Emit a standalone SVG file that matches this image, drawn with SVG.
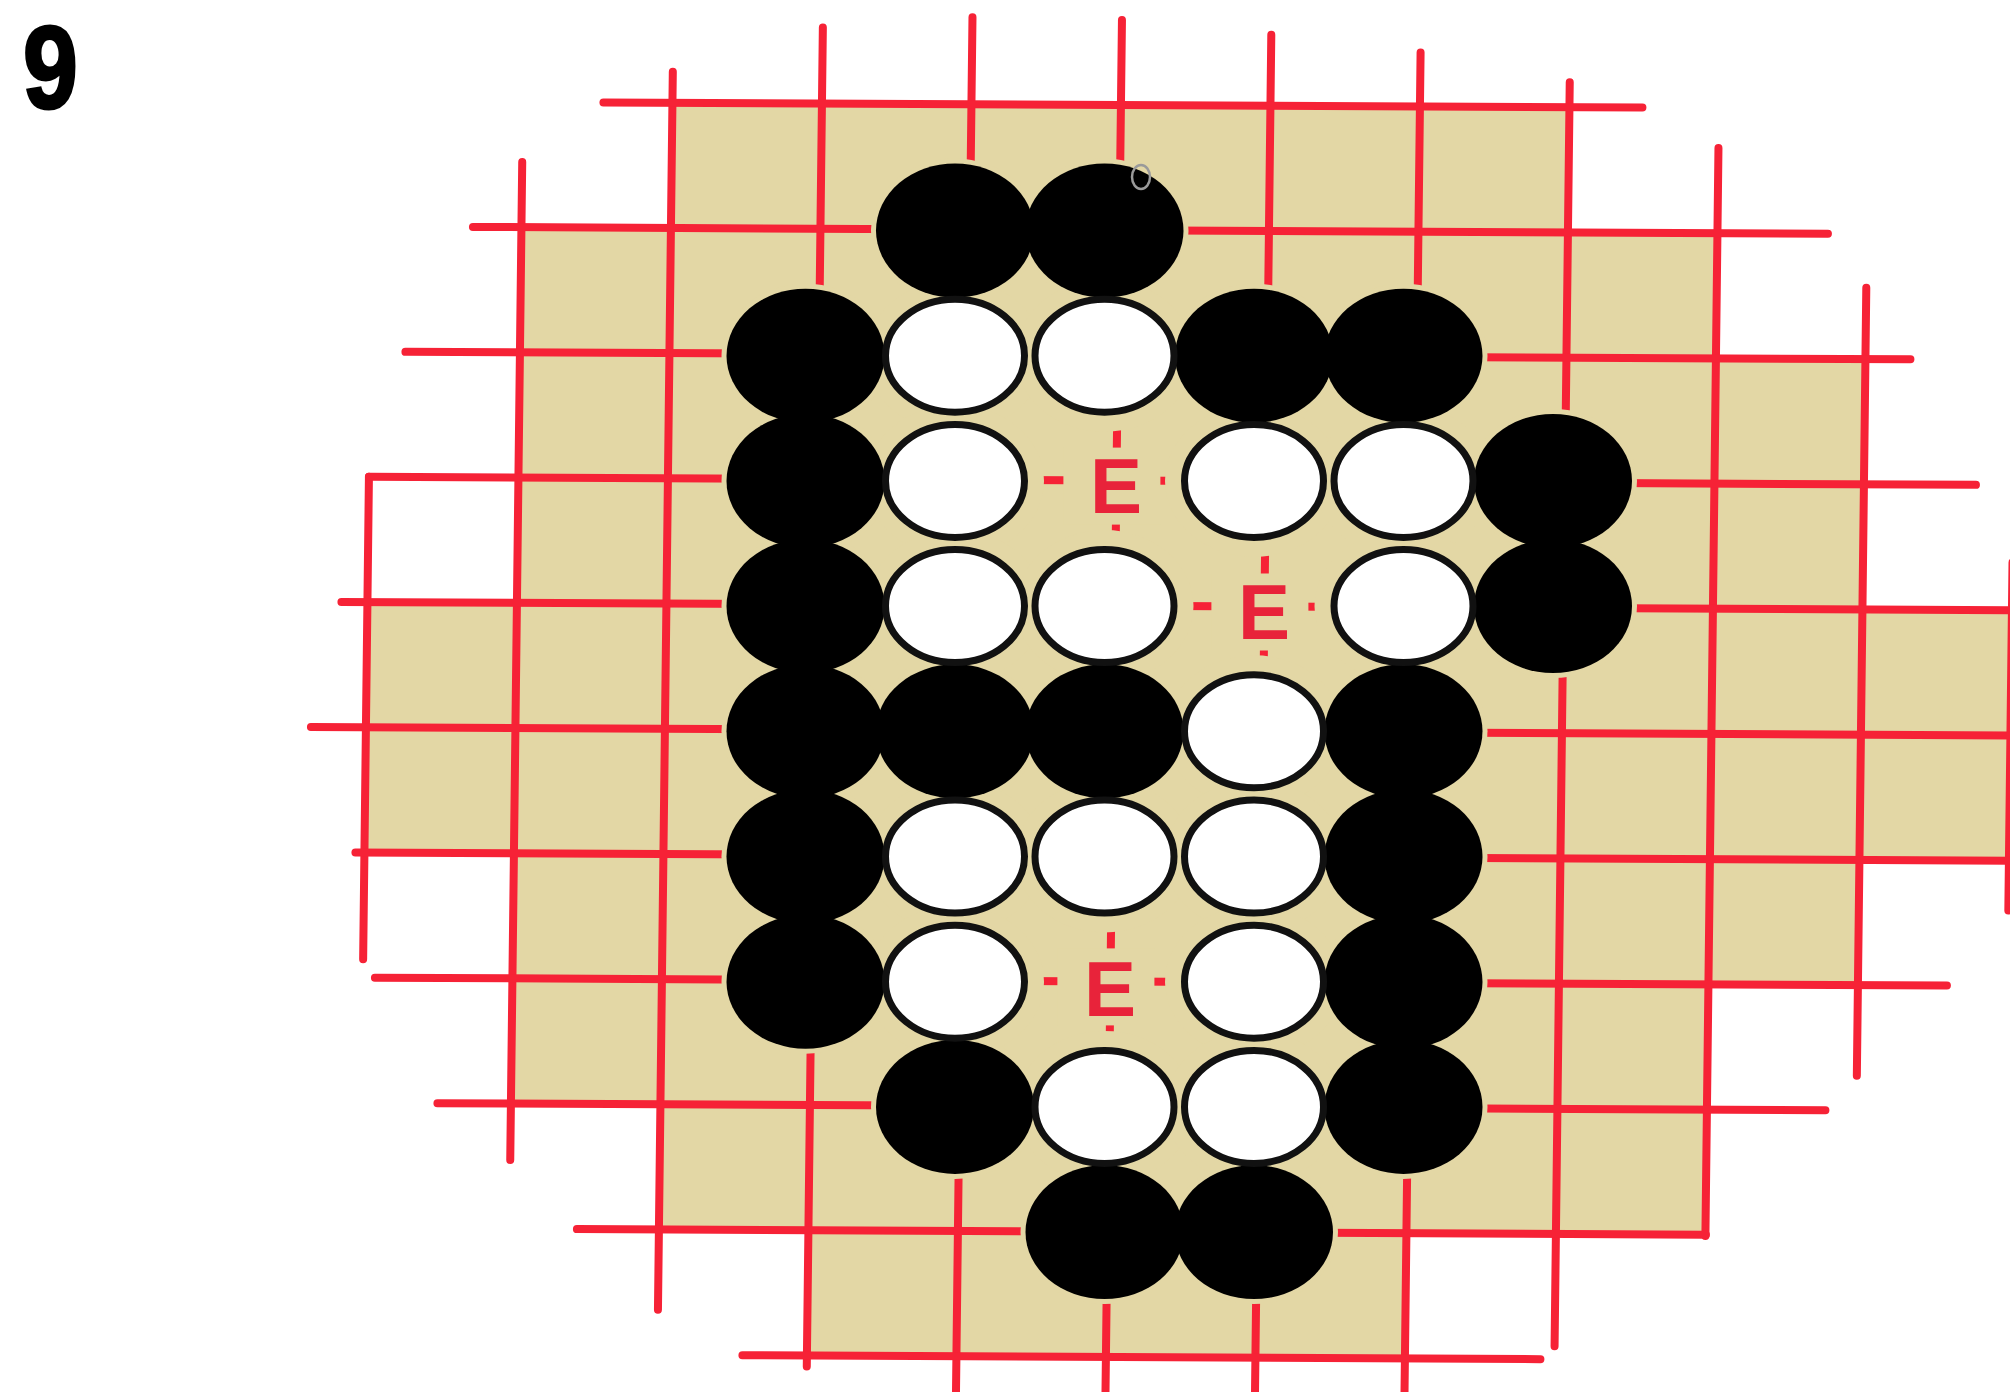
<svg xmlns="http://www.w3.org/2000/svg" width="2010" height="1392" viewBox="0 0 2010 1392">
<defs>
<style>
.grid line{stroke:#f62236;stroke-width:8;stroke-linecap:round}
.tan{fill:#e3d7a5}
.halo-b{fill:#e3d7a5}
.halo-w{fill:#e3d7a5}
.b{fill:#000}
.w{fill:#fff;stroke:#111;stroke-width:7}
.lbl{font-family:"Liberation Sans",Arial,sans-serif;font-size:78px;font-weight:bold;fill:#e8233a;text-anchor:middle}
.num{font-family:"Liberation Sans",Arial,sans-serif;font-size:116px;font-weight:bold;fill:#000}
</style>
</defs>
<rect width="2010" height="1392" fill="#fff"/>
<g id="label-9"><text class="num" transform="translate(23,108) scale(0.85,1)" x="0" y="0" stroke="#000" stroke-width="3">9</text></g>
<g id="board" transform="matrix(1,0.005,-0.012,1,8.7,-5.6)">
<polygon class="tan" points="665,105 1562,105 1562,230.2 1711.5,230.2 1711.5,355.4 1861,355.4 1861,605.8 2040,605.8 2040,856.2 1861,856.2 1861,981.4 1711.5,981.4 1711.5,1231.8 1412.5,1231.8 1412.5,1357 814.5,1357 814.5,1231.8 665,1231.8 665,1106.6 515.5,1106.6 515.5,856.2 366,856.2 366,605.8 515.5,605.8 515.5,230.2 665,230.2"/>
<g id="connectors" class="grid">
<line x1="366" y1="480.6" x2="366" y2="963"/>
<line x1="515.5" y1="165" x2="515.5" y2="1163"/>
<line x1="665" y1="74" x2="665" y2="1312"/>
<line x1="814.5" y1="29" x2="814.5" y2="1368"/>
<line x1="964" y1="18" x2="964" y2="1420"/>
<line x1="1113.5" y1="20" x2="1113.5" y2="1420"/>
<line x1="1263" y1="34" x2="1263" y2="1420"/>
<line x1="1412.5" y1="51" x2="1412.5" y2="1420"/>
<line x1="1562" y1="80" x2="1562" y2="1344"/>
<line x1="1711.5" y1="145" x2="1711.5" y2="1233"/>
<line x1="1861" y1="284" x2="1861" y2="1072"/>
<line x1="2010.5" y1="558" x2="2010.5" y2="906"/>
<line x1="596" y1="105" x2="1635" y2="105"/>
<line x1="467" y1="230.2" x2="1822" y2="230.2"/>
<line x1="401" y1="355.4" x2="1906" y2="355.4"/>
<line x1="366" y1="480.6" x2="1973" y2="480.6"/>
<line x1="340" y1="605.8" x2="2040" y2="605.8"/>
<line x1="311" y1="731" x2="2040" y2="731"/>
<line x1="357" y1="856.2" x2="2040" y2="856.2"/>
<line x1="378" y1="981.4" x2="1950" y2="981.4"/>
<line x1="442" y1="1106.6" x2="1830" y2="1106.6"/>
<line x1="583" y1="1231.8" x2="1712" y2="1231.8"/>
<line x1="750" y1="1357" x2="1548" y2="1357"/>
</g>
</g>
<g id="halos">
<ellipse class="halo-b" cx="955" cy="230.5" rx="84" ry="72"/>
<ellipse class="halo-b" cx="1104.5" cy="230.5" rx="84" ry="72"/>
<ellipse class="halo-b" cx="805.5" cy="355.7" rx="84" ry="72"/>
<ellipse class="halo-b" cx="1254" cy="355.7" rx="84" ry="72"/>
<ellipse class="halo-b" cx="1403.5" cy="355.7" rx="84" ry="72"/>
<ellipse class="halo-b" cx="805.5" cy="480.9" rx="84" ry="72"/>
<ellipse class="halo-b" cx="1553" cy="480.9" rx="84" ry="72"/>
<ellipse class="halo-b" cx="805.5" cy="606.1" rx="84" ry="72"/>
<ellipse class="halo-b" cx="1553" cy="606.1" rx="84" ry="72"/>
<ellipse class="halo-b" cx="805.5" cy="731.3" rx="84" ry="72"/>
<ellipse class="halo-b" cx="955" cy="731.3" rx="84" ry="72"/>
<ellipse class="halo-b" cx="1104.5" cy="731.3" rx="84" ry="72"/>
<ellipse class="halo-b" cx="1403.5" cy="731.3" rx="84" ry="72"/>
<ellipse class="halo-b" cx="805.5" cy="856.5" rx="84" ry="72"/>
<ellipse class="halo-b" cx="1403.5" cy="856.5" rx="84" ry="72"/>
<ellipse class="halo-b" cx="805.5" cy="981.7" rx="84" ry="72"/>
<ellipse class="halo-b" cx="1403.5" cy="981.7" rx="84" ry="72"/>
<ellipse class="halo-b" cx="955" cy="1106.9" rx="84" ry="72"/>
<ellipse class="halo-b" cx="1403.5" cy="1106.9" rx="84" ry="72"/>
<ellipse class="halo-b" cx="1104.5" cy="1232.1" rx="84" ry="72"/>
<ellipse class="halo-b" cx="1254" cy="1232.1" rx="84" ry="72"/>
<ellipse class="halo-w" cx="955" cy="355.7" rx="89" ry="76"/>
<ellipse class="halo-w" cx="1104.5" cy="355.7" rx="89" ry="76"/>
<ellipse class="halo-w" cx="955" cy="480.9" rx="89" ry="76"/>
<ellipse class="halo-w" cx="1254" cy="480.9" rx="89" ry="76"/>
<ellipse class="halo-w" cx="1403.5" cy="480.9" rx="89" ry="76"/>
<ellipse class="halo-w" cx="955" cy="606.1" rx="89" ry="76"/>
<ellipse class="halo-w" cx="1104.5" cy="606.1" rx="89" ry="76"/>
<ellipse class="halo-w" cx="1403.5" cy="606.1" rx="89" ry="76"/>
<ellipse class="halo-w" cx="1254" cy="731.3" rx="89" ry="76"/>
<ellipse class="halo-w" cx="955" cy="856.5" rx="89" ry="76"/>
<ellipse class="halo-w" cx="1104.5" cy="856.5" rx="89" ry="76"/>
<ellipse class="halo-w" cx="1254" cy="856.5" rx="89" ry="76"/>
<ellipse class="halo-w" cx="955" cy="981.7" rx="89" ry="76"/>
<ellipse class="halo-w" cx="1254" cy="981.7" rx="89" ry="76"/>
<ellipse class="halo-w" cx="1104.5" cy="1106.9" rx="89" ry="76"/>
<ellipse class="halo-w" cx="1254" cy="1106.9" rx="89" ry="76"/>
<rect class="halo-w" x="1063.4" y="447.6" width="97" height="77"/>
<rect class="halo-w" x="1211.4" y="573.5" width="97" height="77"/>
<rect class="halo-w" x="1057.4" y="948.4" width="97" height="77"/>
</g>
<g id="black-stones">
<g id="b-4-1"><ellipse class="b" cx="955" cy="230.5" rx="79" ry="67"/></g>
<g id="b-5-1"><ellipse class="b" cx="1104.5" cy="230.5" rx="79" ry="67"/><ellipse cx="1141" cy="177" rx="9" ry="12" fill="none" stroke="#9a9a9a" stroke-width="2.5"/></g>
<g id="b-3-2"><ellipse class="b" cx="805.5" cy="355.7" rx="79" ry="67"/></g>
<g id="b-6-2"><ellipse class="b" cx="1254" cy="355.7" rx="79" ry="67"/></g>
<g id="b-7-2"><ellipse class="b" cx="1403.5" cy="355.7" rx="79" ry="67"/></g>
<g id="b-3-3"><ellipse class="b" cx="805.5" cy="480.9" rx="79" ry="67"/></g>
<g id="b-8-3"><ellipse class="b" cx="1553" cy="480.9" rx="79" ry="67"/></g>
<g id="b-3-4"><ellipse class="b" cx="805.5" cy="606.1" rx="79" ry="67"/></g>
<g id="b-8-4"><ellipse class="b" cx="1553" cy="606.1" rx="79" ry="67"/></g>
<g id="b-3-5"><ellipse class="b" cx="805.5" cy="731.3" rx="79" ry="67"/></g>
<g id="b-4-5"><ellipse class="b" cx="955" cy="731.3" rx="79" ry="67"/></g>
<g id="b-5-5"><ellipse class="b" cx="1104.5" cy="731.3" rx="79" ry="67"/></g>
<g id="b-7-5"><ellipse class="b" cx="1403.5" cy="731.3" rx="79" ry="67"/></g>
<g id="b-3-6"><ellipse class="b" cx="805.5" cy="856.5" rx="79" ry="67"/></g>
<g id="b-7-6"><ellipse class="b" cx="1403.5" cy="856.5" rx="79" ry="67"/></g>
<g id="b-3-7"><ellipse class="b" cx="805.5" cy="981.7" rx="79" ry="67"/></g>
<g id="b-7-7"><ellipse class="b" cx="1403.5" cy="981.7" rx="79" ry="67"/></g>
<g id="b-4-8"><ellipse class="b" cx="955" cy="1106.9" rx="79" ry="67"/></g>
<g id="b-7-8"><ellipse class="b" cx="1403.5" cy="1106.9" rx="79" ry="67"/></g>
<g id="b-5-9"><ellipse class="b" cx="1104.5" cy="1232.1" rx="79" ry="67"/></g>
<g id="b-6-9"><ellipse class="b" cx="1254" cy="1232.1" rx="79" ry="67"/></g>
</g>
<g id="white-stones">
<g id="w-4-2"><ellipse class="w" cx="955" cy="355.7" rx="69.5" ry="56.5"/></g>
<g id="w-5-2"><ellipse class="w" cx="1104.5" cy="355.7" rx="69.5" ry="56.5"/></g>
<g id="w-4-3"><ellipse class="w" cx="955" cy="480.9" rx="69.5" ry="56.5"/></g>
<g id="w-6-3"><ellipse class="w" cx="1254" cy="480.9" rx="69.5" ry="56.5"/></g>
<g id="w-7-3"><ellipse class="w" cx="1403.5" cy="480.9" rx="69.5" ry="56.5"/></g>
<g id="w-4-4"><ellipse class="w" cx="955" cy="606.1" rx="69.5" ry="56.5"/></g>
<g id="w-5-4"><ellipse class="w" cx="1104.5" cy="606.1" rx="69.5" ry="56.5"/></g>
<g id="w-7-4"><ellipse class="w" cx="1403.5" cy="606.1" rx="69.5" ry="56.5"/></g>
<g id="w-6-5"><ellipse class="w" cx="1254" cy="731.3" rx="69.5" ry="56.5"/></g>
<g id="w-4-6"><ellipse class="w" cx="955" cy="856.5" rx="69.5" ry="56.5"/></g>
<g id="w-5-6"><ellipse class="w" cx="1104.5" cy="856.5" rx="69.5" ry="56.5"/></g>
<g id="w-6-6"><ellipse class="w" cx="1254" cy="856.5" rx="69.5" ry="56.5"/></g>
<g id="w-4-7"><ellipse class="w" cx="955" cy="981.7" rx="69.5" ry="56.5"/></g>
<g id="w-6-7"><ellipse class="w" cx="1254" cy="981.7" rx="69.5" ry="56.5"/></g>
<g id="w-5-8"><ellipse class="w" cx="1104.5" cy="1106.9" rx="69.5" ry="56.5"/></g>
<g id="w-6-8"><ellipse class="w" cx="1254" cy="1106.9" rx="69.5" ry="56.5"/></g>
</g>
<g id="labels">
<g id="e-5-3"><text class="lbl" x="1116" y="513">E</text></g>
<g id="e-6-4"><text class="lbl" x="1264" y="639">E</text></g>
<g id="e-5-7"><text class="lbl" x="1110" y="1016">E</text></g>
</g>
</svg>
